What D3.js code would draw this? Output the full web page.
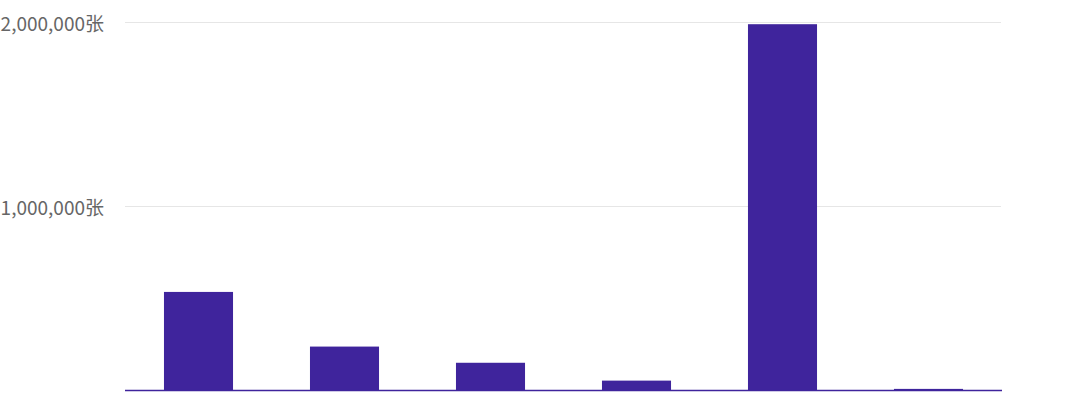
<!DOCTYPE html>
<html><head><meta charset="utf-8">
<script src="https://cdn.jsdelivr.net/npm/d3@7"></script>
<style>html,body{margin:0;padding:0;background:#fff;}svg{display:block;}</style>
</head><body>
<svg id="c" width="1080" height="404"></svg>
<script>
const categories = ["A", "B", "C", "D", "E", "F"];
const values = [533000, 236000, 148000, 51000, 1988000, 6000];
const tickValues = [1000000, 2000000];
const unit = "张";

const svg = d3.select("#c");
const x = d3.scaleBand().domain(categories).range([125.5, 1001.5])
  .paddingInner(0.527).paddingOuter(0.2635);
const y = d3.scaleLinear().domain([0, 2000000]).range([390, 22]);

const fmt = d3.format(",");
// grid
svg.append("g").selectAll("line").data(tickValues).join("line")
  .attr("x1", 125).attr("x2", 1001)
  .attr("y1", d => Math.round(y(d)) + 0.5).attr("y2", d => Math.round(y(d)) + 0.5)
  .attr("stroke", "#e6e6e6").attr("stroke-width", 1);
// labels
svg.append("g").selectAll("text").data(tickValues).join("text")
  .attr("x", 104).attr("y", d => y(d) + 9)
  .attr("text-anchor", "end")
  .attr("fill", "#666").attr("font-size", 19)
  .attr("font-family", "'Noto Sans CJK SC', 'Noto Sans', sans-serif")
  .text(d => fmt(d) + unit);
// bars
svg.append("g").selectAll("rect").data(values).join("rect")
  .attr("x", (d, i) => x(categories[i]))
  .attr("width", x.bandwidth())
  .attr("y", d => y(d))
  .attr("height", d => y(0) - y(d))
  .attr("fill", "#3f249c");
// baseline
svg.append("line").attr("x1", 125).attr("x2", 1002)
  .attr("y1", y(0) + 0.5).attr("y2", y(0) + 0.5)
  .attr("stroke", "#3f249c").attr("stroke-width", 1.5);
</script>
</body></html>
